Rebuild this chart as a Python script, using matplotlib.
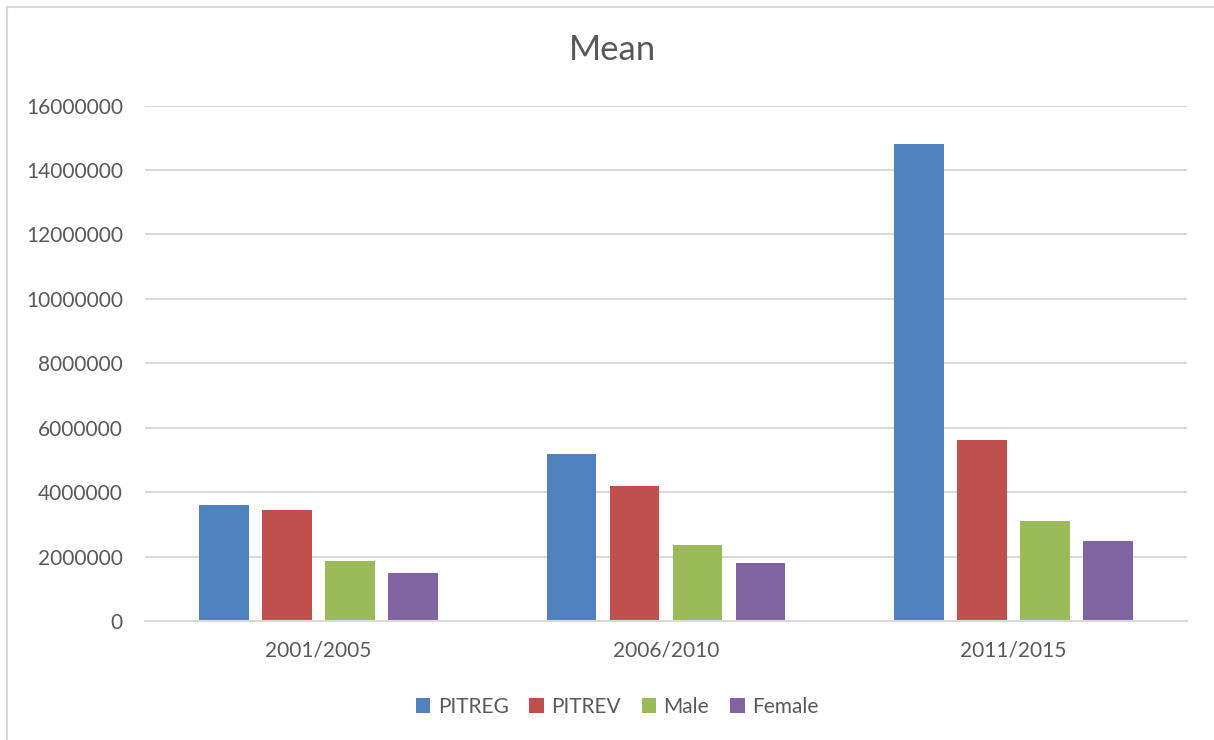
import matplotlib
matplotlib.use("Agg")
import matplotlib.pyplot as plt
import numpy as np
from matplotlib.patches import Rectangle, Patch

categories = ["2001/2005", "2006/2010", "2011/2015"]
series_names = ["PITREG", "PITREV", "Male", "Female"]
pitreg = [3610000, 5180000, 14800000]
pitrev = [3430000, 4180000, 5620000]
male = [1870000, 2370000, 3110000]
female = [1490000, 1800000, 2490000]
yticks = [0, 2000000, 4000000, 6000000, 8000000, 10000000, 12000000, 14000000, 16000000]

colors = ["#4F81BD", "#C0504D", "#9BBB59", "#8064A2"]
text_color = "#595959"
grid_color = "#D9D9D9"

plt.rcParams['font.family'] = ['Lato', 'DejaVu Sans']

W, H = 1214, 740
fig = plt.figure(figsize=(W / 100, H / 100), dpi=100)
fig.patch.set_facecolor("white")

# chart frame border (partially cropped at right/bottom)
fig.patches.append(Rectangle((7 / W, -0.05), 1.2, 1 - 7 / H + 0.05, transform=fig.transFigure,
                             fill=False, edgecolor=grid_color, linewidth=1.5))

ax = fig.add_axes([145 / W, 1 - 621 / H, (1187 - 145) / W, (621 - 105.5) / H])

data = [pitreg, pitrev, male, female]
x = np.arange(len(categories))
w = 1 / 7.0
step = 1.27 * w
for i, (vals, c, name) in enumerate(zip(data, colors, series_names)):
    ax.bar(x + (i - 1.5) * step, vals, width=w, color=c, label=name, zorder=3)

ax.set_xlim(-0.5, len(categories) - 0.5)
ax.set_ylim(0, 16000000)
ax.set_yticks(yticks)
ax.set_yticklabels([str(v) for v in yticks])
ax.set_xticks(x)
ax.set_xticklabels(categories)

for s in ["top", "right", "left"]:
    ax.spines[s].set_visible(False)
ax.spines["bottom"].set_color(grid_color)
ax.spines["bottom"].set_linewidth(1.5)
ax.spines["bottom"].set_zorder(4)

ax.yaxis.grid(True, color=grid_color, linewidth=1.5, zorder=0)
ax.set_axisbelow(True)
ax.tick_params(axis="both", length=0, labelsize=15, labelcolor=text_color)
ax.tick_params(axis="y", pad=16)
ax.tick_params(axis="x", pad=14)

fig.text(613 / W, 1 - 50 / H, "Mean", ha="center", va="center", fontsize=25, color=text_color)

handles = [Patch(facecolor=c, edgecolor="none") for c in colors]
fig.legend(handles, series_names, loc="center", bbox_to_anchor=(617 / W, 1 - 707 / H),
           ncol=4, frameon=False, fontsize=15, labelcolor=text_color,
           handlelength=0.7, handleheight=0.7, handletextpad=0.35, columnspacing=1.0)

fig.savefig("out.png", dpi=100, facecolor="white")
